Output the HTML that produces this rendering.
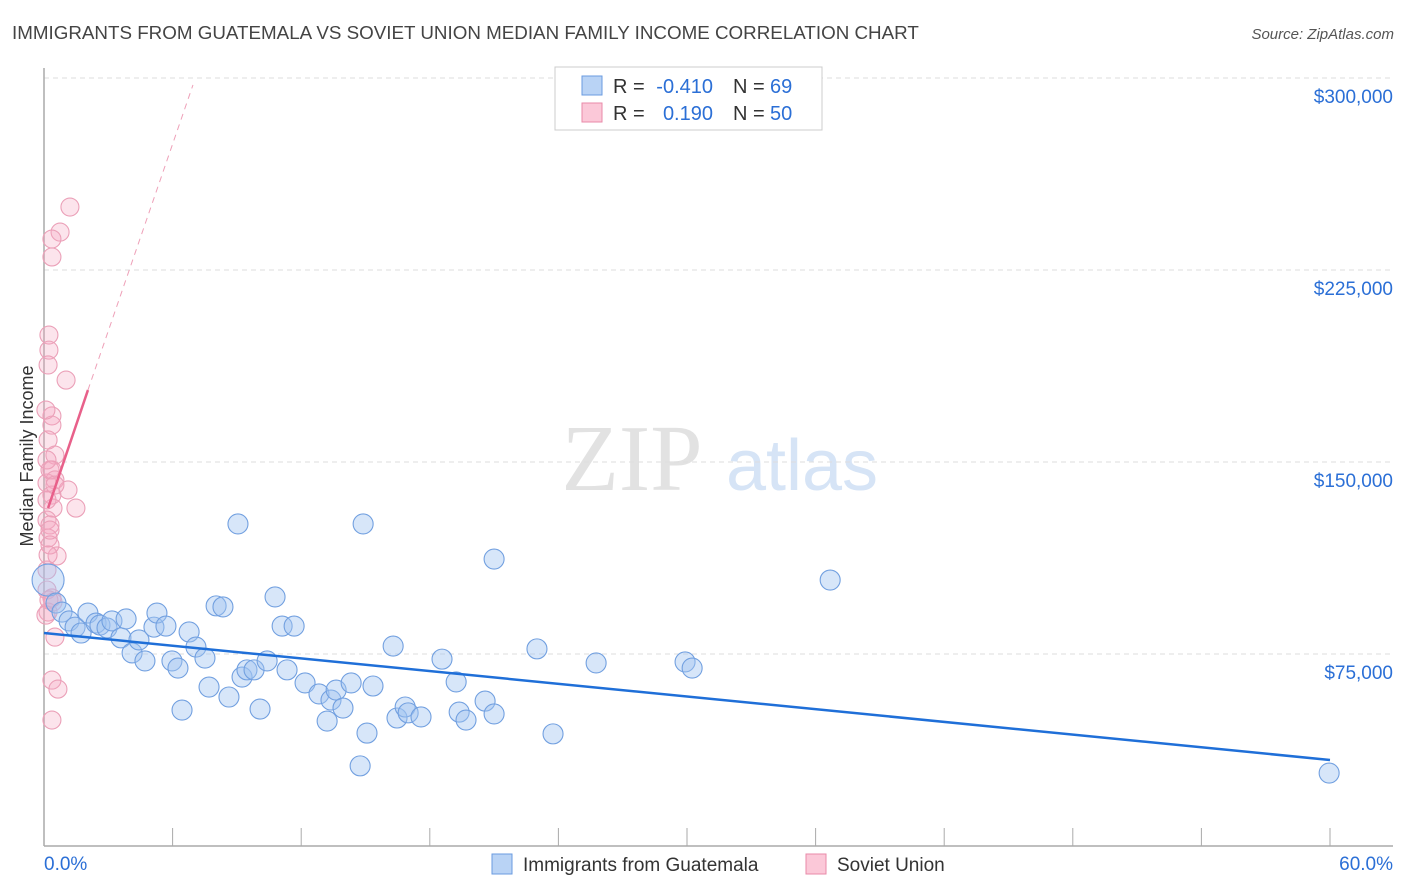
<!DOCTYPE html>
<html><head><meta charset="utf-8"><style>
body{margin:0;background:#fff;font-family:"Liberation Sans",sans-serif;}
svg{display:block}
</style></head><body>
<svg id="chart" width="1406" height="892">
<text x="12" y="39" font-size="18.8" fill="#444">IMMIGRANTS FROM GUATEMALA VS SOVIET UNION MEDIAN FAMILY INCOME CORRELATION CHART</text>
<text x="1394" y="39" font-size="15" fill="#555" font-style="italic" text-anchor="end">Source: ZipAtlas.com</text>
<text x="33" y="456" font-size="18" fill="#333" text-anchor="middle" transform="rotate(-90 33 456)">Median Family Income</text>
<g>
<text x="632" y="490" font-size="94" fill="#e2e2e2" font-family="Liberation Serif,serif" text-anchor="middle">ZIP</text>
<text x="802" y="490" font-size="72" fill="#d6e4f6" text-anchor="middle">atlas</text>
</g>
<g id="grid"></g>
<g id="axes"></g>
<g id="marks"></g>
<g>
<rect x="555" y="67" width="267" height="63" fill="#fff" stroke="#ccc"/>
<rect x="582" y="76" width="20" height="19" fill="#b9d3f5" stroke="#6a9be0"/>
<rect x="582" y="103" width="20" height="19" fill="#fbc8d8" stroke="#e88aa8"/>
<text x="613" y="93" font-size="20" fill="#333">R =</text>
<text x="713" y="93" font-size="20" fill="#2b6fd6" text-anchor="end">-0.410</text>
<text x="733" y="93" font-size="20" fill="#333">N =</text>
<text x="770" y="93" font-size="20" fill="#2b6fd6">69</text>
<text x="613" y="120" font-size="20" fill="#333">R =</text>
<text x="713" y="120" font-size="20" fill="#2b6fd6" text-anchor="end">0.190</text>
<text x="733" y="120" font-size="20" fill="#333">N =</text>
<text x="770" y="120" font-size="20" fill="#2b6fd6">50</text>
</g>
<g>
<rect x="492" y="854" width="20" height="20" fill="#b9d3f5" stroke="#6a9be0"/>
<text x="523" y="871" font-size="19" fill="#333">Immigrants from Guatemala</text>
<rect x="806" y="854" width="20" height="20" fill="#fbc8d8" stroke="#e88aa8"/>
<text x="837" y="871" font-size="19" fill="#333">Soviet Union</text>
</g>
</svg>
<script>
const yTicks=[75000,150000,225000,300000];
const yTickLabels=["$75,000","$150,000","$225,000","$300,000"];
const xTicks=[0,6,12,18,24,30,36,42,48,54,60];
const blueX=[0.19,0.56,0.84,1.17,1.45,1.73,2.05,2.43,2.61,2.94,3.17,3.59,3.83,4.11,4.43,4.71,5.13,5.27,5.69,5.97,6.25,6.44,6.77,7.09,7.51,7.70,8.03,8.35,8.63,9.05,9.24,9.47,9.80,10.08,10.41,10.78,11.11,11.34,11.67,12.18,12.83,13.21,13.39,13.63,13.95,14.33,14.75,14.89,15.07,15.35,16.29,16.47,16.85,16.99,17.59,18.57,19.23,19.37,19.69,20.58,21.00,21.00,23.00,23.75,25.76,29.91,30.24,36.68,59.96];
const blueY=[103.9,94.9,91.4,87.9,85.5,83.2,91.0,87.1,86.3,85.2,87.9,81.3,88.7,75.4,80.5,72.3,85.5,91.0,85.9,72.3,69.5,53.1,83.6,77.7,73.4,62.1,93.8,93.4,58.2,125.8,66.0,68.8,68.8,53.5,72.3,97.3,85.9,68.8,85.9,63.7,59.4,48.8,57.0,60.9,53.9,63.7,31.3,125.8,44.1,62.5,78.1,50.0,54.3,52.0,50.4,73.0,64.1,52.3,49.2,56.6,51.6,112.1,77.0,43.8,71.5,71.9,69.5,103.9,28.5];
const pinkX=[1.21,0.75,0.37,0.37,0.23,0.23,0.19,1.03,0.37,0.37,0.19,0.51,0.28,0.51,0.14,0.37,1.12,1.49,0.42,0.14,0.28,0.61,0.19,0.28,0.14,0.37,0.19,0.42,0.14,0.51,0.37,0.65,0.37,0.23,0.09,0.14,0.14,0.37,0.09,0.28,0.51,0.19];
const pinkY=[249.6,239.8,237.1,230.1,199.6,193.7,187.9,182.0,168.0,164.4,158.6,152.7,146.9,143.0,141.8,137.1,139.1,132.0,132.0,127.3,125.4,113.3,120.3,117.6,107.8,96.9,91.4,95.3,100.0,81.6,64.8,61.3,49.2,96.1,90.2,150.8,135.2,146.9,170.3,123.4,141.0,113.7];
const blueTrend=[[0,83.2],[60,33.6]];
const pinkTrendSolid=[[0.19,132.0],[2.05,178.1]];
const pinkTrendDash=[[2.05,178.1],[6.95,297.3]];

const NS="http://www.w3.org/2000/svg";
const X=p=>44+p*(1330-44)/60;
const Y=v=>846-v*192/75000;
const Yk=v=>Y(v*1000);
function mk(tag,attrs,parent){const e=document.createElementNS(NS,tag);for(const k in attrs)e.setAttribute(k,attrs[k]);parent.appendChild(e);return e;}
const grid=document.getElementById('grid'),axes=document.getElementById('axes'),marks=document.getElementById('marks');
yTicks.forEach((t,i)=>{
 const l=mk('line',{x1:44,x2:1393,y1:Y(t),y2:Y(t),stroke:'#ddd','stroke-dasharray':'5,4'},grid);
 
 
 const tx=mk('text',{x:1393,y:Y(t)+25,'font-size':19,fill:'#2b6fd6','text-anchor':'end'},axes);
 tx.textContent=yTickLabels[i];
 
 
});
mk('line',{x1:44,x2:44,y1:68,y2:846,stroke:'#aaa','stroke-width':1.5},axes);
mk('line',{x1:44,x2:1393,y1:846,y2:846,stroke:'#aaa','stroke-width':1.5},axes);
xTicks.forEach(t=>{
 const l=mk('line',{x1:X(t),x2:X(t),y1:828,y2:846,stroke:'#aaa'},axes);
 
 
});
const x0=mk('text',{x:44,y:870,'font-size':19,fill:'#2b6fd6'},axes);x0.textContent='0.0%';


const x1=mk('text',{x:1393,y:870,'font-size':19,fill:'#2b6fd6','text-anchor':'end'},axes);x1.textContent='60.0%';


pinkX.forEach((p,i)=>{
 const c=mk('circle',{cx:X(p),cy:Yk(pinkY[i]),r:9,fill:'rgba(245,165,192,0.3)',stroke:'#eba0b8','stroke-width':1.1},marks);
 
 
});
blueX.forEach((p,i)=>{
 const c=mk('circle',{cx:X(p),cy:Yk(blueY[i]),r:i===0?16:10,fill:'rgba(160,196,240,0.42)',stroke:'#72a0e0','stroke-width':1.1},marks);
 
 
});
const bt=mk('line',{x1:X(blueTrend[0][0]),y1:Yk(blueTrend[0][1]),x2:X(blueTrend[1][0]),y2:Yk(blueTrend[1][1]),stroke:'#1f6fd8','stroke-width':2.5},marks);


const pt=mk('line',{x1:X(pinkTrendSolid[0][0]),y1:Yk(pinkTrendSolid[0][1]),x2:X(pinkTrendSolid[1][0]),y2:Yk(pinkTrendSolid[1][1]),stroke:'#e8608a','stroke-width':2.5},marks);


const pd=mk('line',{x1:X(pinkTrendDash[0][0]),y1:Yk(pinkTrendDash[0][1]),x2:X(pinkTrendDash[1][0]),y2:Yk(pinkTrendDash[1][1]),stroke:'#eea0b8','stroke-width':1,'stroke-dasharray':'6,5'},marks);


</script>
</body></html>
